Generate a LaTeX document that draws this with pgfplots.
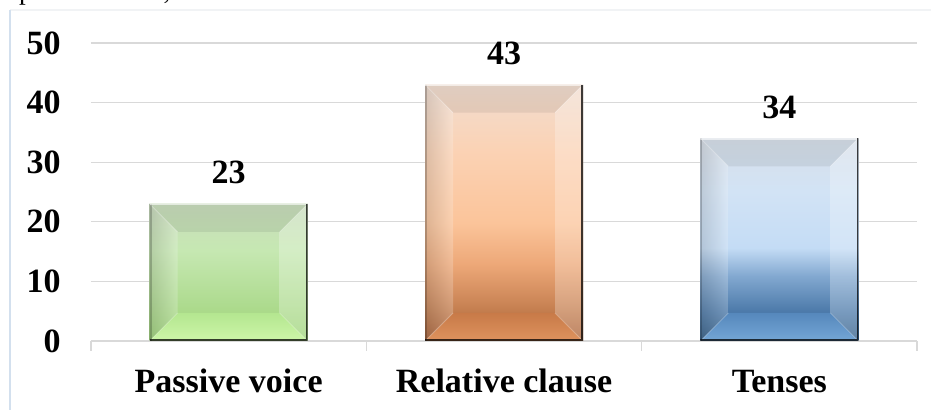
\documentclass[border=0pt]{standalone}
\usepackage{fontspec}
\setmainfont{Liberation Serif}
\usepackage{pgfplots}
\pgfplotsset{compat=1.18}

\definecolor{gridgray}{HTML}{D9D9D9}
\definecolor{framebl}{HTML}{D3E0EE}
\definecolor{frametop}{HTML}{F1F3F5}

% green bar face
\definecolor{ga}{HTML}{9CD376}
\definecolor{gb}{HTML}{B0DC92}
\definecolor{gc}{HTML}{C6E8B2}
\definecolor{gd}{HTML}{C9DCBD}
% orange bar face
\definecolor{oa}{HTML}{A65C30}
\definecolor{ob}{HTML}{C98354}
\definecolor{oc}{HTML}{EDA878}
\definecolor{od}{HTML}{FBC49A}
\definecolor{oe}{HTML}{FBD2B4}
\definecolor{of}{HTML}{F1DDD0}
% blue bar face
\definecolor{ba}{HTML}{2D5983}
\definecolor{bb}{HTML}{4A78A8}
\definecolor{bc}{HTML}{82A8D0}
\definecolor{bd}{HTML}{C4DCF5}
\definecolor{be}{HTML}{D2E3F5}
\definecolor{bf}{HTML}{D7DFE9}
% lower facets
\definecolor{gft}{HTML}{B4E690}
\definecolor{gfb}{HTML}{CDF6A8}
\definecolor{oft}{HTML}{C87A48}
\definecolor{ofb}{HTML}{DE935E}
\definecolor{bft}{HTML}{5688BC}
\definecolor{bfb}{HTML}{74A6D6}

\pgfdeclareverticalshading{greenface}{100bp}{color(0bp)=(ga); color(25bp)=(ga);
  color(40bp)=(gb); color(58bp)=(gc); color(75bp)=(gd); color(100bp)=(gd)}
\pgfdeclareverticalshading{orangeface}{100bp}{color(0bp)=(oa); color(25bp)=(oa);
  color(32bp)=(ob); color(40bp)=(oc); color(48bp)=(od); color(62bp)=(oe);
  color(75bp)=(of); color(100bp)=(of)}
\pgfdeclareverticalshading{blueface}{100bp}{color(0bp)=(ba); color(25bp)=(ba);
  color(32bp)=(bb); color(41bp)=(bc); color(48bp)=(bd); color(62bp)=(be);
  color(75bp)=(bf); color(100bp)=(bf)}

% bevelled bar: grey top facet, shaded left facet, light right facet,
% coloured lower facet, dark right and bottom rim
\newcommand{\bev}{21pt}
\newcommand{\bevelfacets}[2]{%
  \begin{scope}[every path/.style={}, path picture={}]
    \coordinate (NW) at (path picture bounding box.north west);
    \coordinate (NE) at (path picture bounding box.north east);
    \coordinate (SW) at (path picture bounding box.south west);
    \coordinate (SE) at (path picture bounding box.south east);
    \coordinate (iNW) at ([shift={(\bev,-\bev)}]NW);
    \coordinate (iNE) at ([shift={(-\bev,-\bev)}]NE);
    \coordinate (iSW) at ([shift={(\bev,\bev)}]SW);
    \coordinate (iSE) at ([shift={(-\bev,\bev)}]SE);
    \fill[black,opacity=0.07] (NW) -- (NE) -- (iNE) -- (iNW) -- cycle;
    \shade[left color=black!55, right color=white, opacity=0.22]
      (NW) -- (iNW) -- (iSW) -- (SW) -- cycle;
    \shade[left color=white, right color=white, opacity=0.25]
      (NE) -- (SE) -- (iSE) -- (iNE) -- cycle;
    \shade[top color=#1, bottom color=#2]
      (SW) -- (iSW) -- (iSE) -- (SE) -- cycle;
    \draw[white,opacity=0.3,line width=0.6pt] (NW) -- (iNW) (NE) -- (iNE) (SW) -- (iSW) (SE) -- (iSE);
    \draw[black,opacity=0.2,line width=3pt] (NW) -- (SW);
    \draw[white,opacity=0.6,line width=2pt] (NW) -- (NE);
    \draw[black,opacity=0.75,line width=2.6pt] (NE) -- (SE) -- (SW);
  \end{scope}}

\begin{document}
\begin{tikzpicture}
\useasboundingbox (-68.25pt,-51.75pt) rectangle (630pt,255.75pt);

% running text of the page above the chart
\node[anchor=base west, inner sep=0pt, font=\fontsize{20.25}{24}\selectfont]
  at (-68.25pt,256pt) {e passive voice, relative clause and tenses.};

% chart area frame
\draw[frametop, line width=0.9pt] (-60.75pt,248.25pt) -- (640pt,248.25pt);
\draw[framebl, line width=1pt] (-60.75pt,-60pt) -- (-60.75pt,248.25pt);

\begin{axis}[
  at={(0,0)}, anchor=south west,
  scale only axis,
  width=619.5pt, height=223.5pt,
  xmin=-0.5, xmax=2.5,
  ymin=0, ymax=50,
  ybar,
  bar width=118.5pt,
  axis lines*=left,
  y axis line style={draw=none},
  x axis line style={gridgray, line width=0.9pt},
  ytick={0,10,20,30,40,50},
  ymajorgrids,
  grid style={gridgray, line width=0.9pt},
  ytick style={draw=none},
  xtick={0,1,2},
  xticklabels={Passive voice, Relative clause, Tenses},
  major tick length=0pt,
  minor xtick={-0.5,0.5,1.5,2.5},
  minor tick length=7.5pt,
  tick align=outside,
  minor x tick style={gridgray, line width=0.9pt},
  /pgf/number format/assume math mode=true,
  ticklabel style={font=\bfseries\fontsize{25.5}{30}\selectfont, text=black},
  yticklabel style={anchor=east, inner sep=0pt, xshift=-22.5pt},
  xticklabel style={anchor=base, inner sep=0pt, yshift=-38.25pt},
]
\addplot[bar shift=0pt, draw=none, shade, shading=greenface] coordinates {(0,23)};
\addplot[bar shift=0pt, draw=none, shade, shading=orangeface] coordinates {(1,43)};
\addplot[bar shift=0pt, draw=none, shade, shading=blueface] coordinates {(2,34)};
% bevel facets laid over each bar
\addplot[bar shift=0pt, draw=none, fill=none, path picture={\bevelfacets{gft}{gfb}}] coordinates {(0,23)};
\addplot[bar shift=0pt, draw=none, fill=none, path picture={\bevelfacets{oft}{ofb}}] coordinates {(1,43)};
\addplot[bar shift=0pt, draw=none, fill=none, path picture={\bevelfacets{bft}{bfb}}] coordinates {(2,34)};
% value labels above the bars
\addplot[bar shift=0pt, draw=none, fill=none,
  nodes near coords,
  nodes near coords style={font=\bfseries\fontsize{25.5}{30}\selectfont, text=black,
    anchor=base, inner sep=0pt, yshift=15pt}]
  coordinates {(0,23) (1,43) (2,34)};
\end{axis}
\end{tikzpicture}
\end{document}
